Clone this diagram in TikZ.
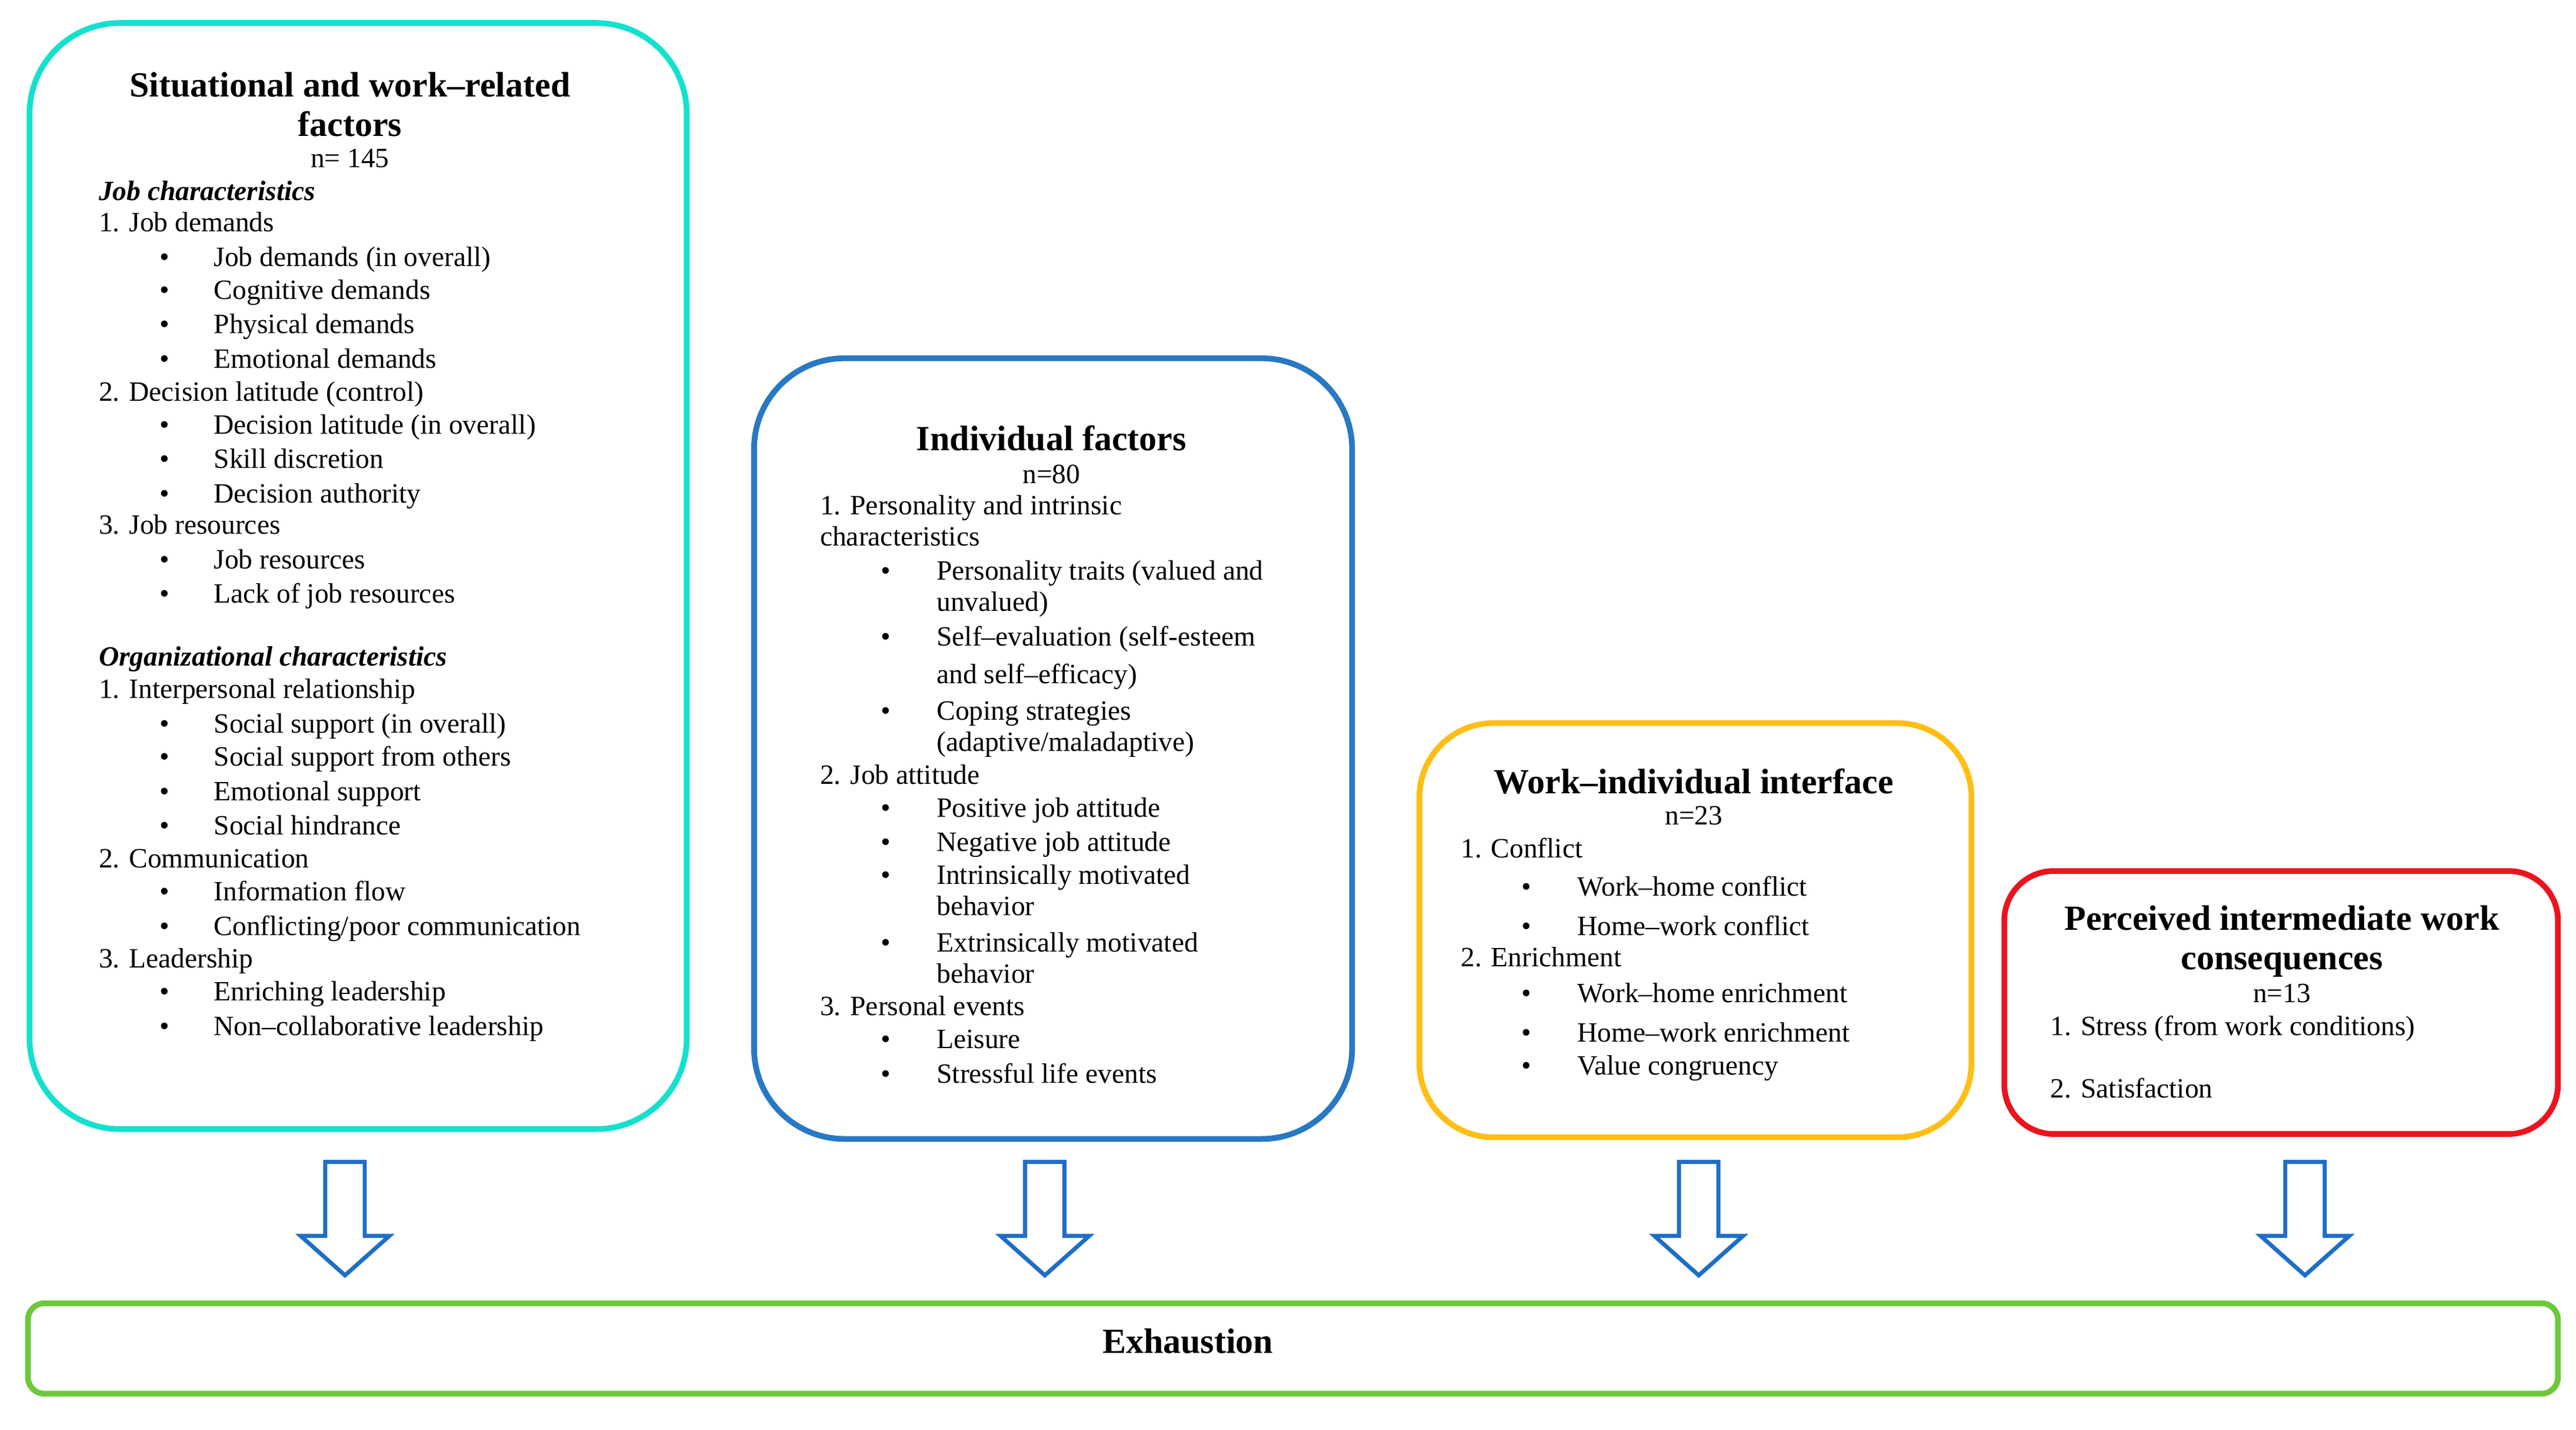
\documentclass[tikz,border=0pt]{standalone}
\usepackage{fontspec}
\setmainfont{Liberation Serif}
\begin{document}
\definecolor{ccyan}{RGB}{20,225,205}
\definecolor{cblue}{RGB}{40,120,195}
\definecolor{cyel}{RGB}{255,190,20}
\definecolor{cred}{RGB}{235,20,30}
\definecolor{cgreen}{RGB}{110,200,60}
\definecolor{carrow}{RGB}{30,110,200}
\newcommand{\T}[4][]{\node[txt,#1] at (#2,#3+5) {#4};}
\newcommand{\B}[4]{\node[txt] at (#1,#3+5) {\textbullet}; \node[txt] at (#2,#3+5) {#4};}
\newcommand{\C}[3]{\node[ttl,anchor=base] at (#1,#2+6) {#3};}
\newcommand{\Arr}[2]{\draw[arr] (#2-12,707) -- (#2+12,707) -- (#2+12,752) -- (#2+27,752) -- (#2,776) -- (#2-27,752) -- (#2-12,752) -- cycle; \coordinate (#1) at (#2,776);}
\begin{tikzpicture}[x=1pt,y=-1pt,
  txt/.style={anchor=base west,inner sep=0,font=\fontsize{17}{20}\selectfont},
  ttl/.style={inner sep=0,font=\fontsize{21.5}{24}\selectfont\bfseries},
  box/.style={line width=3.5pt,rounded corners=55pt},
  arr/.style={draw=carrow,line width=2.5pt,fill=white,line join=miter}]
\useasboundingbox (0,0) rectangle (1568,870);
\draw[box,ccyan] (18,14) rectangle (418,687);
\draw[box,cblue] (459,218) rectangle (823,693);
\draw[box,cyel,rounded corners=45pt] (864,440) rectangle (1200,692);
\draw[box,cred,rounded corners=30pt] (1220,530) rectangle (1557,690);
\draw[box,cgreen,rounded corners=10pt] (17,793) rectangle (1557,848);
\node[ttl] (exh) at (723,816) {Exhaustion};
% box 1
\C{213}{53}{Situational and work–related}
\C{213}{77}{factors}
\node[txt,anchor=base] at (213,102) {n= 145};
\T[font=\fontsize{17}{20}\selectfont\bfseries\itshape]{60}{117}{Job characteristics}
\T{60}{136}{1. Job demands}
\B{97}{130}{157}{Job demands (in overall)}
\B{97}{130}{177}{Cognitive demands}
\B{97}{130}{198}{Physical demands}
\B{97}{130}{219}{Emotional demands}
\T{60}{239}{2. Decision latitude (control)}
\B{97}{130}{259}{Decision latitude (in overall)}
\B{97}{130}{280}{Skill discretion}
\B{97}{130}{301}{Decision authority}
\T{60}{320}{3. Job resources}
\B{97}{130}{341}{Job resources}
\B{97}{130}{362}{Lack of job resources}
\T[font=\fontsize{17}{20}\selectfont\bfseries\itshape]{60}{400}{Organizational characteristics}
\T{60}{420}{1. Interpersonal relationship}
\B{97}{130}{441}{Social support (in overall)}
\B{97}{130}{461}{Social support from others}
\B{97}{130}{482}{Emotional support}
\B{97}{130}{503}{Social hindrance}
\T{60}{523}{2. Communication}
\B{97}{130}{543}{Information flow}
\B{97}{130}{564}{Conflicting/poor communication}
\T{60}{584}{3. Leadership}
\B{97}{130}{604}{Enriching leadership}
\B{97}{130}{625}{Non–collaborative leadership}
% box 2
\C{640}{268}{Individual factors}
\node[txt,anchor=base] at (640,294) {n=80};
\T{499}{308}{1. Personality and intrinsic}
\T{499}{327}{characteristics}
\B{536}{570}{348}{Personality traits (valued and}
\T{570}{367}{unvalued)}
\B{536}{570}{388}{Self–evaluation (self-esteem}
\T{570}{411}{and self–efficacy)}
\B{536}{570}{433}{Coping strategies}
\T{570}{452}{(adaptive/maladaptive)}
\T{499}{472}{2. Job attitude}
\B{536}{570}{492}{Positive job attitude}
\B{536}{570}{513}{Negative job attitude}
\B{536}{570}{533}{Intrinsically motivated}
\T{570}{552}{behavior}
\B{536}{570}{574}{Extrinsically motivated}
\T{570}{593}{behavior}
\T{499}{613}{3. Personal events}
\B{536}{570}{633}{Leisure}
\B{536}{570}{654}{Stressful life events}
% box 3
\C{1031}{477}{Work–individual interface}
\node[txt,anchor=base] at (1031,502) {n=23};
\T{889}{517}{1. Conflict}
\B{926}{960}{540}{Work–home conflict}
\B{926}{960}{564}{Home–work conflict}
\T{889}{583}{2. Enrichment}
\B{926}{960}{605}{Work–home enrichment}
\B{926}{960}{629}{Home–work enrichment}
\B{926}{960}{649}{Value congruency}
% box 4
\C{1389}{560}{Perceived intermediate work}
\C{1389}{584}{consequences}
\node[txt,anchor=base] at (1389,610) {n=13};
\T{1248}{625}{1. Stress (from work conditions)}
\T{1248}{663}{2. Satisfaction}
% arrows
\Arr{a1}{210}
\Arr{a2}{636}
\Arr{a3}{1034}
\Arr{a4}{1403}
\end{tikzpicture}
\end{document}
